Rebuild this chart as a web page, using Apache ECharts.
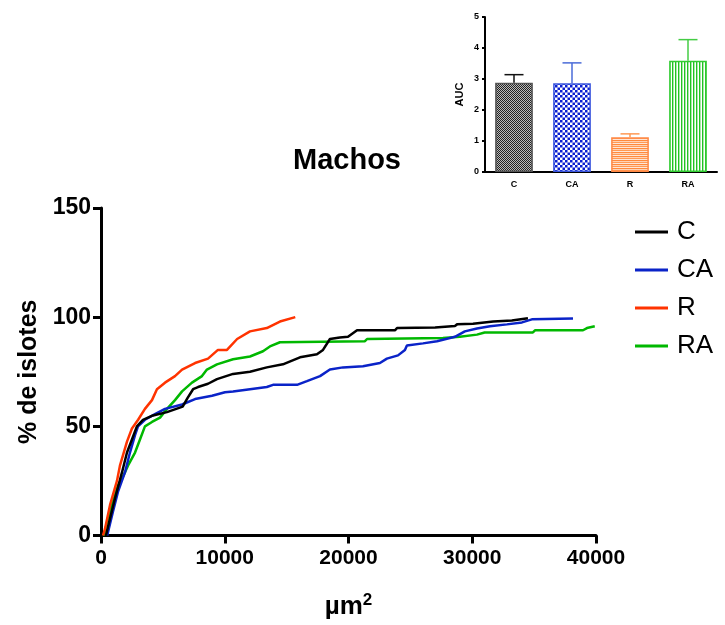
<!DOCTYPE html>
<html>
<head>
<meta charset="utf-8">
<script src="https://cdn.jsdelivr.net/npm/echarts@6/dist/echarts.min.js"></script>
<style>
html,body{margin:0;padding:0;background:#fff;}
#chart{width:725px;height:625px;}
</style>
</head>
<body>
<div id="chart"></div>
<script>
// ---- Main cumulative curves: [area µm², % de islotes]
var seriesNames = ['C', 'CA', 'R', 'RA'];
var dataC = [[400,0],[480,2],[1130,17],[1700,29],[2100,38],[2500,44],[2900,50],[3390,53],[4200,55],[5330,56.5],[6600,59],[7000,63],[7440,67],[7840,68],[8650,69.5],[9370,71.6],[10670,74],[12040,75],[13400,77],[14700,78.4],[16080,81.6],[17450,83],[17940,85],[18500,90],[19300,90.7],[19960,91],[20690,94],[23750,94],[23920,95],[27000,95.3],[27150,96],[28600,96],[28770,96.7],[30060,97],[31700,98],[33200,98.5],[34500,99.5]];
var dataCA = [[500,0],[560,0],[970,11],[1370,20],[1940,29],[2340,38],[2750,46],[2990,50],[3550,53],[4360,55.6],[5170,58],[6550,60],[7600,62.5],[8970,64],[10020,65.6],[10670,66],[12040,67],[13400,68],[13900,69],[15840,69],[16640,70.7],[17700,73],[18500,76],[19550,77],[21170,77.5],[22540,79],[23100,81],[24000,82.5],[24560,85],[24720,87],[26020,88],[27150,89],[28600,91],[29400,93.5],[30380,94.8],[31430,95.8],[32800,96.7],[34020,97.6],[34820,99],[38140,99.4]];
var dataR = [[160,0],[320,3],[730,14],[1290,25],[1530,32],[2100,43],[2500,49],[3000,53],[3550,58],[4120,62],[4520,67],[5170,70],[5980,73],[6550,76],[7600,79],[8650,81],[9450,85],[10180,85],[11000,90],[12040,93.5],[13400,95],[14460,98],[15700,100]];
var dataRA = [[200,0],[320,2],[570,8],[970,15.5],[1370,23],[1700,26],[2180,32],[2750,38],[3150,44],[3550,50],[4120,52],[4770,54],[5330,58],[5980,62],[6550,66],[7350,70],[8160,73],[8560,76],[9370,78.4],[10670,80.7],[12040,82],[13090,84.4],[13650,86.6],[14460,88.5],[21330,89],[21500,90],[27630,90.5],[29000,91],[30380,92],[31000,93],[34900,93],[35070,94],[38950,94],[39270,95],[39900,95.8]];

var yTicks = [0, 50, 100, 150];
var xTicks = [0, 10000, 20000, 30000, 40000];

// ---- Inset AUC bar chart
var aucCategories = ['C', 'CA', 'R', 'RA'];
var aucMean = [2.88, 2.86, 1.12, 3.59];
var aucErr = [0.26, 0.66, 0.11, 0.68];
var aucTicks = [0, 1, 2, 3, 4, 5];

function makePattern(w, h, draw) {
  var c = document.createElement('canvas');
  c.width = w; c.height = h;
  var ctx = c.getContext('2d');
  ctx.fillStyle = '#ffffff';
  ctx.fillRect(0, 0, w, h);
  draw(ctx);
  return { image: c, repeat: 'repeat' };
}
var patC = makePattern(2, 2, function (ctx) {
  ctx.fillStyle = '#222'; ctx.fillRect(0, 0, 1, 1); ctx.fillRect(1, 1, 1, 1);
  ctx.fillStyle = '#bbb'; ctx.fillRect(1, 0, 1, 1); ctx.fillRect(0, 1, 1, 1);
});
var patCA = makePattern(10, 10, function (ctx) {
  ctx.fillStyle = '#0a1ed0';
  ctx.fillRect(0, 0, 2.5, 2.5); ctx.fillRect(5, 0, 2.5, 2.5);
  ctx.fillRect(2.5, 2.5, 2.5, 2.5); ctx.fillRect(7.5, 2.5, 2.5, 2.5);
  ctx.fillRect(0, 5, 2.5, 2.5); ctx.fillRect(5, 5, 2.5, 2.5);
  ctx.fillRect(2.5, 7.5, 2.5, 2.5); ctx.fillRect(7.5, 7.5, 2.5, 2.5);
});
var patR = makePattern(1, 4, function (ctx) {
  ctx.fillStyle = '#ff8a3d'; ctx.fillRect(0, 0, 1, 1);
  ctx.fillStyle = '#ffd2b4'; ctx.fillRect(0, 1, 1, 1);
  ctx.fillStyle = '#ff9a55'; ctx.fillRect(0, 2, 1, 1);
  ctx.fillStyle = '#ffe6d6'; ctx.fillRect(0, 3, 1, 1);
});
var patRA = makePattern(3, 1, function (ctx) {
  ctx.fillStyle = '#22c322'; ctx.fillRect(0, 0, 1, 1);
  ctx.fillStyle = '#a8e8a8'; ctx.fillRect(1, 0, 1, 1);
});
var barFills = [patC, patCA, patR, patRA];
var barBorders = ['#555555', '#3a55dd', '#ff8844', '#33cc33'];
var errColors = ['#111111', '#4a6bd8', '#ff9955', '#44cc44'];

var lineColors = ['#000000', '#0a23c8', '#ff3300', '#00b800'];
var FONT = 'Liberation Sans, Arial, sans-serif';

var chart = echarts.init(document.getElementById('chart'), null, { renderer: 'canvas' });
var option = {
  animation: false,
  backgroundColor: '#ffffff',
  title: {
    text: 'Machos',
    left: 288, top: 141,
    textStyle: { fontFamily: FONT, fontWeight: 'bold', fontSize: 29, color: '#000' }
  },
  legend: {
    data: seriesNames,
    orient: 'vertical',
    left: 630, top: 214,
    icon: 'rect',
    itemWidth: 33, itemHeight: 3,
    itemGap: 12,
    textStyle: { fontFamily: FONT, fontSize: 26, color: '#000', padding: [0, 0, 0, 4], lineHeight: 26 }
  },
  grid: [
    { left: 101, right: 129, top: 208, bottom: 88 },
    { left: 485, right: 8, top: 17, bottom: 453 }
  ],
  xAxis: [
    {
      gridIndex: 0, type: 'value', min: 0, max: 40000, interval: 10000,
      name: 'µm{sup|2}', nameLocation: 'middle', nameGap: 56,
      nameTextStyle: {
        fontFamily: FONT, fontWeight: 'bold', fontSize: 26, color: '#000',
        rich: { sup: { fontFamily: FONT, fontWeight: 'bold', fontSize: 17, verticalAlign: 'top', padding: [0, 0, 14, 0] } }
      },
      axisLine: { show: true, onZero: false, lineStyle: { color: '#000', width: 3 } },
      axisTick: { show: true, length: 8, lineStyle: { color: '#000', width: 3 } },
      axisLabel: { fontFamily: FONT, fontWeight: 'bold', fontSize: 21, color: '#000', margin: 12,
        formatter: function (v) { return String(v); } },
      splitLine: { show: false }
    },
    {
      gridIndex: 1, type: 'category', data: aucCategories,
      axisLine: { lineStyle: { color: '#000', width: 2 } },
      axisTick: { alignWithLabel: true, length: 4, lineStyle: { color: '#000', width: 2 } },
      axisLabel: { fontFamily: FONT, fontWeight: 'bold', fontSize: 9, color: '#000', margin: 8 },
      splitLine: { show: false }
    }
  ],
  yAxis: [
    {
      gridIndex: 0, type: 'value', min: 0, max: 150, interval: 50,
      name: '% de islotes', nameLocation: 'middle', nameGap: 58, nameRotate: 90,
      nameTextStyle: { fontFamily: FONT, fontWeight: 'bold', fontSize: 25, color: '#000' },
      axisLine: { show: true, lineStyle: { color: '#000', width: 3 } },
      axisTick: { show: true, length: 8, lineStyle: { color: '#000', width: 3 } },
      axisLabel: { fontFamily: FONT, fontWeight: 'bold', fontSize: 23, color: '#000', margin: 10,
        formatter: function (v) { return String(v); } },
      splitLine: { show: false }
    },
    {
      gridIndex: 1, type: 'value', min: 0, max: 5, interval: 1,
      name: 'AUC', nameLocation: 'middle', nameGap: 20, nameRotate: 90,
      nameTextStyle: { fontFamily: FONT, fontWeight: 'bold', fontSize: 11, color: '#000' },
      axisLine: { show: true, lineStyle: { color: '#000', width: 2 } },
      axisTick: { show: true, length: 3, lineStyle: { color: '#000', width: 2 } },
      axisLabel: { fontFamily: FONT, fontWeight: 'bold', fontSize: 9, color: '#000', margin: 6 },
      splitLine: { show: false }
    }
  ],
  series: [
    { name: 'C', type: 'line', xAxisIndex: 0, yAxisIndex: 0, data: dataC, showSymbol: false, symbol: 'none', lineStyle: { color: lineColors[0], width: 2.5 }, itemStyle: { color: lineColors[0] }, z: 4 },
    { name: 'CA', type: 'line', xAxisIndex: 0, yAxisIndex: 0, data: dataCA, showSymbol: false, symbol: 'none', lineStyle: { color: lineColors[1], width: 2.5 }, itemStyle: { color: lineColors[1] }, z: 3 },
    { name: 'R', type: 'line', xAxisIndex: 0, yAxisIndex: 0, data: dataR, showSymbol: false, symbol: 'none', lineStyle: { color: lineColors[2], width: 2.5 }, itemStyle: { color: lineColors[2] }, z: 5 },
    { name: 'RA', type: 'line', xAxisIndex: 0, yAxisIndex: 0, data: dataRA, showSymbol: false, symbol: 'none', lineStyle: { color: lineColors[3], width: 2.5 }, itemStyle: { color: lineColors[3] }, z: 2 },
    {
      name: 'AUC', type: 'bar', xAxisIndex: 1, yAxisIndex: 1,
      barCategoryGap: '35%',
      data: aucMean.map(function (v, i) {
        return { value: v, itemStyle: { color: barFills[i], borderColor: barBorders[i], borderWidth: 1.5 } };
      }),
      z: 3
    },
    {
      name: 'err', type: 'custom', xAxisIndex: 1, yAxisIndex: 1,
      data: aucMean.map(function (v, i) { return [i, v, v + aucErr[i]]; }),
      renderItem: function (params, api) {
        var i = api.value(0);
        var p0 = api.coord([i, api.value(1)]);
        var p1 = api.coord([i, api.value(2)]);
        var half = 9.5;
        var col = errColors[params.dataIndex];
        return {
          type: 'group',
          children: [
            { type: 'line', shape: { x1: p0[0], y1: p0[1], x2: p1[0], y2: p1[1] }, style: { stroke: col, lineWidth: 1.5 } },
            { type: 'line', shape: { x1: p1[0] - half, y1: p1[1], x2: p1[0] + half, y2: p1[1] }, style: { stroke: col, lineWidth: 1.5 } }
          ]
        };
      },
      z: 4
    }
  ]
};
chart.setOption(option);
</script>
</body>
</html>
